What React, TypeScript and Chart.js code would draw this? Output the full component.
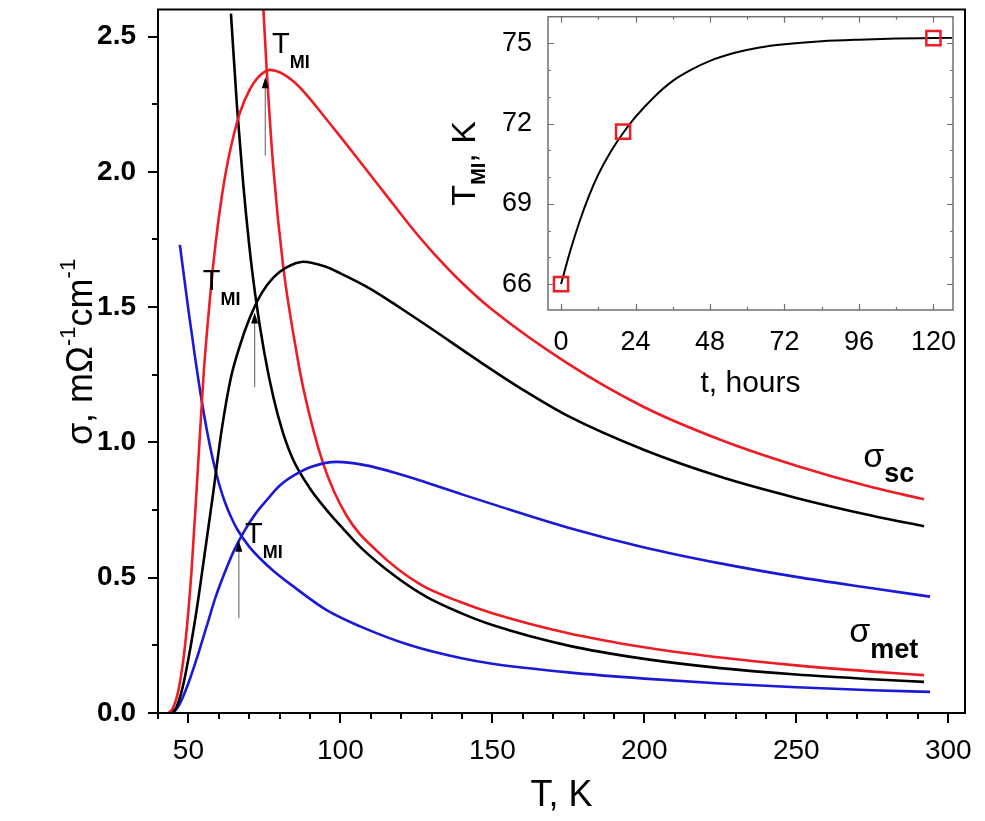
import React, { useEffect, useRef } from "react";
import { Chart, registerables } from "chart.js";

Chart.register(...registerables);

const FONT = '"Liberation Sans", Arial, Helvetica, sans-serif';

// ---------- main panel data: T (K) and sigma (mOhm^-1 cm^-1) ----------
const redScT = [43.5, 45, 47, 49, 51, 53, 55, 57, 59, 61, 63, 65, 67, 70, 73, 76.8, 80, 85, 90, 95, 100, 107, 115, 123, 131, 140, 150, 175, 200, 225, 250, 275, 292];
const redScS = [0, 0.02, 0.1, 0.26, 0.52, 0.88, 1.25, 1.52, 1.74, 1.91, 2.04, 2.14, 2.22, 2.3, 2.35, 2.377, 2.368, 2.33, 2.27, 2.2, 2.13, 2.03, 1.915, 1.8, 1.695, 1.59, 1.49, 1.29, 1.13, 1.01, 0.914, 0.834, 0.79];

const blackScT = [44.5, 46, 48, 50, 52.7, 55, 58, 61, 64, 67, 70, 74, 78, 82, 87.8, 95, 100, 110, 120, 130, 145, 160, 175, 200, 225, 250, 275, 292];
const blackScS = [0, 0.02, 0.09, 0.2, 0.38, 0.56, 0.8, 1.05, 1.24, 1.36, 1.455, 1.55, 1.61, 1.645, 1.668, 1.65, 1.625, 1.567, 1.495, 1.42, 1.305, 1.195, 1.097, 0.972, 0.873, 0.795, 0.729, 0.69];

const blueScT = [45, 47, 50, 53, 56, 59, 62, 65, 68, 72, 76, 80, 85, 91, 98.8, 108, 118, 128, 140, 150, 175, 200, 225, 250, 275, 294];
const blueScS = [0, 0.03, 0.11, 0.21, 0.32, 0.43, 0.52, 0.6, 0.665, 0.735, 0.79, 0.84, 0.88, 0.912, 0.928, 0.916, 0.888, 0.853, 0.808, 0.772, 0.685, 0.612, 0.553, 0.503, 0.461, 0.43];

const redMetT = [74.2, 75.7, 77.9, 81.2, 85, 88, 94.4, 102, 111.9, 126.3, 139.5, 150, 175, 200, 225, 250, 275, 292];
const redMetS = [2.7, 2.39, 2.02, 1.65, 1.37, 1.19, 0.92, 0.73, 0.6, 0.475, 0.41, 0.369, 0.295, 0.243, 0.205, 0.176, 0.153, 0.14];

const blackMetT = [64, 66, 68, 70, 72, 75, 78, 81, 84.5, 90, 95.5, 101, 106.5, 117.5, 128.5, 139.5, 150, 175, 200, 225, 250, 275, 292];
const blackMetS = [2.585, 2.24, 1.96, 1.73, 1.545, 1.33, 1.165, 1.04, 0.935, 0.83, 0.75, 0.68, 0.614, 0.51, 0.428, 0.37, 0.325, 0.249, 0.2, 0.166, 0.142, 0.125, 0.115];

const blueMetT = [47.2, 50, 52, 54, 56, 58, 60, 62, 64, 66, 70, 73.5, 78, 84.5, 95.5, 106.5, 123, 139.5, 150, 175, 200, 225, 250, 275, 294];
const blueMetS = [1.73, 1.49, 1.33, 1.18, 1.05, 0.94, 0.85, 0.78, 0.725, 0.68, 0.615, 0.572, 0.525, 0.468, 0.38, 0.32, 0.25, 0.203, 0.182, 0.15, 0.127, 0.109, 0.095, 0.084, 0.078];

const xMajorTicks = [50, 100, 150, 200, 250, 300];
const xMinorTicks = [40, 60, 70, 80, 90, 110, 120, 130, 140, 160, 170, 180, 190, 210, 220, 230, 240, 260, 270, 280, 290];
const yMajorTicks = [0, 0.5, 1.0, 1.5, 2.0, 2.5];
const yMinorTicks = [0.25, 0.75, 1.25, 1.75, 2.25];

// T_MI markers: arrow at T, from sigma start to sigma tip; label anchor
const tmiArrowT = [66.6, 71.8, 75.3];
const tmiArrowFrom = [0.35, 1.205, 2.06];
const tmiArrowTo = [0.637, 1.48, 2.35];
const tmiLabelT = [68.6, 54.7, 77.5];
const tmiLabelS = [0.628, 1.563, 2.44];

// ---------- inset data ----------
const hoursFit = [0, 3, 6, 9, 12, 16, 20, 24, 30, 36, 42, 48, 56, 64, 72, 84, 96, 108, 120, 126];
const tmiFit = [66.0, 67.25, 68.35, 69.3, 70.1, 70.95, 71.65, 72.25, 73.0, 73.6, 74.02, 74.35, 74.65, 74.85, 74.97, 75.08, 75.14, 75.18, 75.2, 75.21];
const hoursPts = [0, 20, 120];
const tmiPts = [66.0, 71.7, 75.2];
const insetXMajor = [0, 24, 48, 72, 96, 120];
const insetXMinor = [12, 36, 60, 84, 108];
const insetYMajor = [66, 69, 72, 75];
const insetYMinor = [67, 68, 70, 71, 73, 74];

const RED = "#ee1c24";
const BLACK = "#000000";
const BLUE = "#1a1ad6";

const pairs = (xs: number[], ys: number[]) => xs.map((v, i) => ({ x: v, y: ys[i] }));

type Part = { text: string; font: string; dy?: number };
function drawRich(ctx: CanvasRenderingContext2D, x: number, y: number, parts: Part[]) {
  let cx = x;
  for (const p of parts) {
    ctx.font = p.font;
    ctx.fillText(p.text, cx, y + (p.dy || 0));
    cx += ctx.measureText(p.text).width;
  }
}
function richWidth(ctx: CanvasRenderingContext2D, parts: Part[]) {
  let w = 0;
  for (const p of parts) {
    ctx.font = p.font;
    w += ctx.measureText(p.text).width;
  }
  return w;
}

const mainDecor = {
  id: "mainDecor",
  afterDraw(chart: any) {
    const { ctx, chartArea: a } = chart;
    const x = chart.scales.x;
    const y = chart.scales.y;
    ctx.save();
    ctx.strokeStyle = "#000";
    ctx.lineWidth = 2;
    ctx.strokeRect(a.left, a.top, a.right - a.left, a.bottom - a.top);
    ctx.beginPath();
    for (const v of xMajorTicks) {
      const p = Math.round(x.getPixelForValue(v));
      ctx.moveTo(p, a.bottom);
      ctx.lineTo(p, a.bottom + 10);
    }
    for (const v of xMinorTicks) {
      const p = Math.round(x.getPixelForValue(v));
      ctx.moveTo(p, a.bottom);
      ctx.lineTo(p, a.bottom + 6);
    }
    for (const v of yMajorTicks) {
      const p = Math.round(y.getPixelForValue(v));
      ctx.moveTo(a.left, p);
      ctx.lineTo(a.left - 10, p);
    }
    for (const v of yMinorTicks) {
      const p = Math.round(y.getPixelForValue(v));
      ctx.moveTo(a.left, p);
      ctx.lineTo(a.left - 6, p);
    }
    ctx.stroke();

    // arrows
    for (let i = 0; i < tmiArrowT.length; i++) {
      const px = x.getPixelForValue(tmiArrowT[i]);
      const y0 = y.getPixelForValue(tmiArrowFrom[i]);
      const y1 = y.getPixelForValue(tmiArrowTo[i]);
      ctx.strokeStyle = "#777";
      ctx.lineWidth = 1.2;
      ctx.beginPath();
      ctx.moveTo(px, y0);
      ctx.lineTo(px, y1 + 8);
      ctx.stroke();
      ctx.fillStyle = "#000";
      ctx.beginPath();
      ctx.moveTo(px, y1);
      ctx.lineTo(px - 3.5, y1 + 11);
      ctx.lineTo(px + 3.5, y1 + 11);
      ctx.closePath();
      ctx.fill();
    }

    ctx.fillStyle = "#000";
    ctx.textAlign = "left";
    ctx.textBaseline = "alphabetic";
    for (let i = 0; i < tmiLabelT.length; i++) {
      const px = x.getPixelForValue(tmiLabelT[i]);
      const py = y.getPixelForValue(tmiLabelS[i]);
      drawRich(ctx, px, py, [
        { text: "T", font: `29px ${FONT}` },
        { text: "MI", font: `bold 18px ${FONT}`, dy: 15 },
      ]);
    }

    // sigma labels
    drawRich(ctx, x.getPixelForValue(272), y.getPixelForValue(0.909), [
      { text: "σ", font: `34px ${FONT}` },
      { text: "sc", font: `bold 27px ${FONT}`, dy: 15 },
    ]);
    drawRich(ctx, x.getPixelForValue(267.4), y.getPixelForValue(0.2615), [
      { text: "σ", font: `34px ${FONT}` },
      { text: "met", font: `bold 27px ${FONT}`, dy: 16 },
    ]);

    // x title
    ctx.textAlign = "center";
    ctx.font = `36px ${FONT}`;
    ctx.fillText("T, K", (a.left + a.right) / 2, 806);

    // y title (rotated)
    const yParts: Part[] = [
      { text: "σ, mΩ", font: `36px ${FONT}` },
      { text: "-1", font: `22px ${FONT}`, dy: -17 },
      { text: "cm", font: `36px ${FONT}` },
      { text: "-1", font: `22px ${FONT}`, dy: -17 },
    ];
    ctx.textAlign = "left";
    ctx.save();
    ctx.translate(92, 352);
    ctx.rotate(-Math.PI / 2);
    const w = richWidth(ctx, yParts);
    drawRich(ctx, -w / 2, 0, yParts);
    ctx.restore();
    ctx.restore();
  },
};

const insetDecor = {
  id: "insetDecor",
  afterDraw(chart: any) {
    const { ctx, chartArea: a } = chart;
    const x = chart.scales.x;
    const y = chart.scales.y;
    ctx.save();
    ctx.strokeStyle = "#707070";
    ctx.lineWidth = 1.5;
    ctx.strokeRect(a.left, a.top, a.right - a.left, a.bottom - a.top);
    ctx.lineWidth = 1.2;
    ctx.beginPath();
    const xt = (vals: number[], len: number) => {
      for (const v of vals) {
        const p = Math.round(x.getPixelForValue(v)) + 0.5;
        ctx.moveTo(p, a.bottom);
        ctx.lineTo(p, a.bottom - len);
        ctx.moveTo(p, a.top);
        ctx.lineTo(p, a.top + len);
      }
    };
    const yt = (vals: number[], len: number) => {
      for (const v of vals) {
        const p = Math.round(y.getPixelForValue(v)) + 0.5;
        ctx.moveTo(a.left, p);
        ctx.lineTo(a.left + len, p);
        ctx.moveTo(a.right, p);
        ctx.lineTo(a.right - len, p);
      }
    };
    xt(insetXMajor, 6);
    xt(insetXMinor, 3);
    yt(insetYMajor, 6);
    yt(insetYMinor, 3);
    ctx.stroke();

    ctx.fillStyle = "#000";
    ctx.textAlign = "center";
    ctx.textBaseline = "alphabetic";
    ctx.font = `30px ${FONT}`;
    ctx.fillText("t, hours", (a.left + a.right) / 2, 392);

    const parts: Part[] = [
      { text: "T", font: `34px ${FONT}` },
      { text: "MI", font: `bold 20px ${FONT}`, dy: 10 },
      { text: ", K", font: `34px ${FONT}` },
    ];
    ctx.textAlign = "left";
    ctx.save();
    ctx.translate(475, (a.top + a.bottom) / 2);
    ctx.rotate(-Math.PI / 2);
    const w = richWidth(ctx, parts);
    drawRich(ctx, -w / 2, 0, parts);
    ctx.restore();
    ctx.restore();
  },
};

export default function App() {
  const mainRef = useRef<HTMLCanvasElement>(null);
  const insetRef = useRef<HTMLCanvasElement>(null);

  useEffect(() => {
    const lineDs = (label: string, xs: number[], ys: number[], color: string) => ({
      label,
      data: pairs(xs, ys),
      borderColor: color,
      backgroundColor: color,
      borderWidth: 2.6,
      pointRadius: 0,
      fill: false,
      cubicInterpolationMode: "monotone" as const,
    });

    const main = new Chart(mainRef.current as HTMLCanvasElement, {
      type: "line",
      data: {
        datasets: [
          lineDs("red sc", redScT, redScS, RED),
          lineDs("black sc", blackScT, blackScS, BLACK),
          lineDs("blue sc", blueScT, blueScS, BLUE),
          lineDs("red met", redMetT, redMetS, RED),
          lineDs("black met", blackMetT, blackMetS, BLACK),
          lineDs("blue met", blueMetT, blueMetS, BLUE),
        ],
      },
      options: {
        responsive: false,
        animation: false,
        events: [],
        layout: { padding: { top: 9.5, right: 20, left: 0, bottom: 0 } },
        plugins: { legend: { display: false }, tooltip: { enabled: false } },
        scales: {
          x: {
            type: "linear",
            min: 40,
            max: 305.5,
            grid: { display: false },
            border: { display: false },
            afterBuildTicks: (s: any) => {
              s.ticks = xMajorTicks.map((v) => ({ value: v }));
            },
            afterFit: (s: any) => {
              s.height = 108;
              s.paddingLeft = 0;
              s.paddingRight = 0;
            },
            ticks: {
              padding: 13,
              color: "#000",
              maxRotation: 0,
              autoSkip: false,
              font: { family: FONT, size: 28 },
              callback: (v: any) => String(v),
            },
          },
          y: {
            type: "linear",
            min: 0,
            max: 2.6,
            grid: { display: false },
            border: { display: false },
            afterBuildTicks: (s: any) => {
              s.ticks = yMajorTicks.map((v) => ({ value: v }));
            },
            afterFit: (s: any) => {
              s.width = 158;
              s.paddingTop = 0;
              s.paddingBottom = 0;
            },
            ticks: {
              padding: 14,
              color: "#000",
              autoSkip: false,
              font: { family: FONT, size: 28, weight: "bold" },
              callback: (v: any) => Number(v).toFixed(1),
            },
          },
        },
      },
      plugins: [mainDecor],
    });

    const inset = new Chart(insetRef.current as HTMLCanvasElement, {
      type: "line",
      data: {
        datasets: [
          {
            label: "points",
            data: pairs(hoursPts, tmiPts),
            showLine: false,
            pointStyle: "rect",
            pointRadius: 10,
            pointBorderWidth: 2.5,
            pointBorderColor: RED,
            pointBackgroundColor: "rgba(0,0,0,0)",
            borderColor: RED,
            order: 0,
          },
          {
            label: "fit",
            data: pairs(hoursFit, tmiFit),
            borderColor: BLACK,
            borderWidth: 2,
            pointRadius: 0,
            fill: false,
            cubicInterpolationMode: "monotone" as const,
            order: 1,
          },
        ],
      },
      options: {
        responsive: false,
        animation: false,
        events: [],
        layout: { padding: { top: 16.7, right: 32, left: 488, bottom: 451 } },
        plugins: { legend: { display: false }, tooltip: { enabled: false } },
        scales: {
          x: {
            type: "linear",
            min: -4.2,
            max: 126.3,
            grid: { display: false },
            border: { display: false },
            afterBuildTicks: (s: any) => {
              s.ticks = insetXMajor.map((v) => ({ value: v }));
            },
            afterFit: (s: any) => {
              s.height = 60;
              s.paddingLeft = 0;
              s.paddingRight = 0;
            },
            ticks: {
              padding: 8,
              color: "#000",
              maxRotation: 0,
              autoSkip: false,
              font: { family: FONT, size: 27 },
              callback: (v: any) => String(v),
            },
          },
          y: {
            type: "linear",
            min: 65.03,
            max: 76.0,
            grid: { display: false },
            border: { display: false },
            afterBuildTicks: (s: any) => {
              s.ticks = insetYMajor.map((v) => ({ value: v }));
            },
            afterFit: (s: any) => {
              s.width = 60;
              s.paddingTop = 0;
              s.paddingBottom = 0;
            },
            ticks: {
              padding: 8,
              color: "#000",
              autoSkip: false,
              font: { family: FONT, size: 27 },
              callback: (v: any) => String(v),
            },
          },
        },
      },
      plugins: [insetDecor],
    });

    return () => {
      main.destroy();
      inset.destroy();
    };
  }, []);

  return (
    <div style={{ position: "absolute", left: 0, top: 0, width: 985, height: 821, background: "#fff" }}>
      <canvas ref={mainRef} width={985} height={821} style={{ position: "absolute", left: 0, top: 0 }} />
      <canvas ref={insetRef} width={985} height={821} style={{ position: "absolute", left: 0, top: 0 }} />
    </div>
  );
}
